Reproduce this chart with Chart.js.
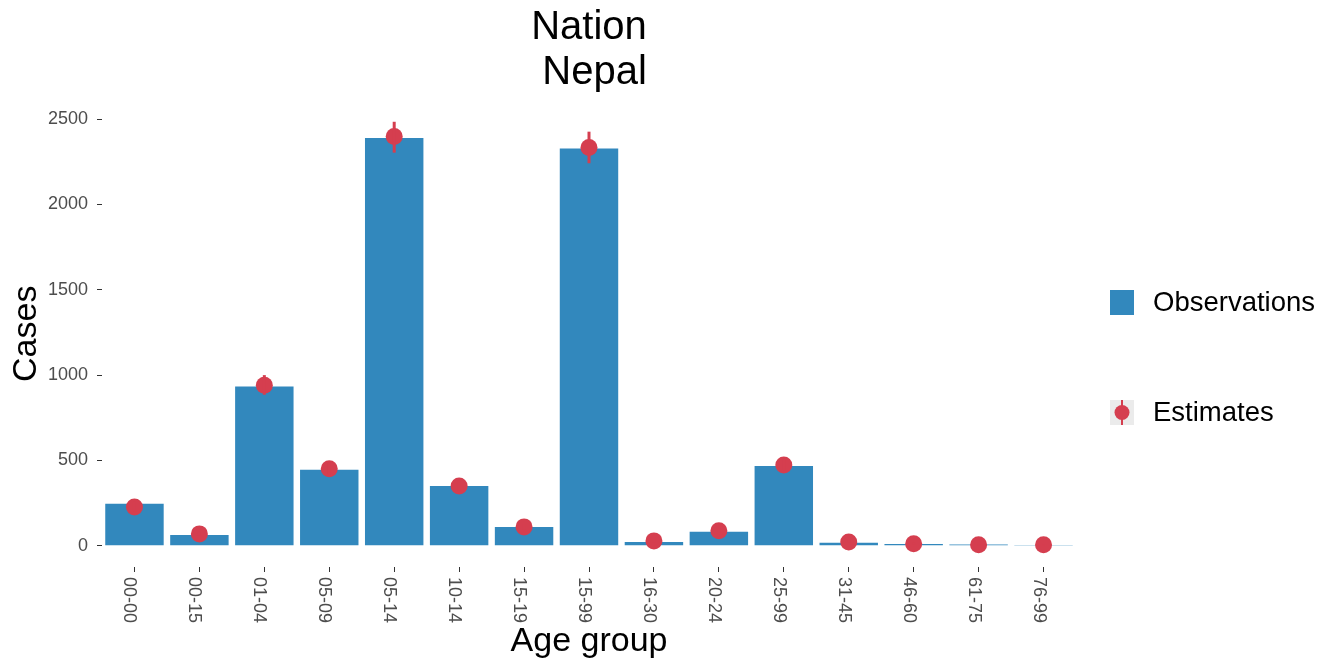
<!DOCTYPE html>
<html>
<head>
<meta charset="utf-8">
<script src="https://cdn.jsdelivr.net/npm/chart.js@4"></script>
<style>
  body { margin: 0; background: #fff; }
  #wrap { width: 1328px; height: 662px; }
</style>
</head>
<body>
<div id="wrap"><canvas id="chart" width="1328" height="662"></canvas></div>
<script>
const ageGroups = ['00-00', '00-15', '01-04', '05-09', '05-14', '10-14', '15-19', '15-99',
                   '16-30', '20-24', '25-99', '31-45', '46-60', '61-75', '76-99'];
const observations = [246, 64, 933, 445, 2389, 351, 111, 2328, 23, 82, 468, 18, 10, 8, 2];
const estimates = [228, 70, 940, 451, 2398, 351, 111, 2333, 29, 88, 474, 23, 12, 6, 6];
const estLow = [200, 58, 885, 415, 2303, 322, 95, 2241, 22, 75, 440, 17, 8, 3, 3];
const estHigh = [258, 84, 1000, 490, 2484, 382, 128, 2426, 37, 102, 510, 30, 17, 10, 10];
const yTicks = [0, 500, 1000, 1500, 2000, 2500];
const seriesNames = ['Observations', 'Estimates'];

const blue = '#3288BD';
const red = '#D53E4F';
const font = '"Liberation Sans", Arial, sans-serif';

// error bars on the estimates
const errorBars = {
  id: 'errorBars',
  afterDatasetsDraw(chart) {
    const { ctx, scales: { x, y } } = chart;
    ctx.save();
    ctx.strokeStyle = red;
    ctx.lineWidth = 3;
    estLow.forEach((lo, i) => {
      const px = x.getPixelForValue(i);
      ctx.beginPath();
      ctx.moveTo(px, y.getPixelForValue(lo));
      ctx.lineTo(px, y.getPixelForValue(estHigh[i]));
      ctx.stroke();
    });
    ctx.restore();
  }
};

// x labels turned to read top to bottom, like ggplot angle = -90
const xLabels = {
  id: 'xLabels',
  afterDraw(chart) {
    const { ctx, scales: { x } } = chart;
    ctx.save();
    ctx.fillStyle = '#4D4D4D';
    ctx.font = '18px ' + font;
    ctx.textAlign = 'left';
    ctx.textBaseline = 'middle';
    ageGroups.forEach((lab, i) => {
      ctx.save();
      ctx.translate(x.getPixelForTick(i) - 5, x.top + 10);
      ctx.rotate(Math.PI / 2);
      ctx.fillText(lab, 0, 0);
      ctx.restore();
    });
    ctx.restore();
  }
};

// legend on the right, ggplot style keys
const sideLegend = {
  id: 'sideLegend',
  afterDraw(chart) {
    const ctx = chart.ctx;
    ctx.save();
    ctx.font = '27.5px ' + font;
    ctx.textBaseline = 'middle';
    // Observations
    ctx.fillStyle = blue;
    ctx.fillRect(1110, 290, 24, 25);
    ctx.fillStyle = '#000';
    ctx.fillText(seriesNames[0], 1153, 303);
    // Estimates
    ctx.fillStyle = '#EBEBEB';
    ctx.fillRect(1110, 400, 24, 25);
    ctx.strokeStyle = red;
    ctx.lineWidth = 2;
    ctx.beginPath();
    ctx.moveTo(1122, 400);
    ctx.lineTo(1122, 425);
    ctx.stroke();
    ctx.fillStyle = red;
    ctx.beginPath();
    ctx.arc(1122, 412.5, 7.5, 0, Math.PI * 2);
    ctx.fill();
    ctx.fillStyle = '#000';
    ctx.fillText(seriesNames[1], 1153, 413);
    ctx.restore();
  }
};

new Chart(document.getElementById('chart'), {
  type: 'bar',
  data: {
    labels: ageGroups,
    datasets: [{
      type: 'line',
      label: seriesNames[1],
      data: estimates,
      showLine: false,
      pointRadius: 8.5,
      pointHoverRadius: 8.5,
      pointBackgroundColor: red,
      pointBorderWidth: 0,
      borderColor: red,
      order: 0
    }, {
      label: seriesNames[0],
      data: observations,
      backgroundColor: blue,
      borderWidth: 0,
      barPercentage: 0.9,
      categoryPercentage: 1,
      order: 1
    }]
  },
  options: {
    responsive: false,
    animation: false,
    devicePixelRatio: 1,
    layout: { padding: { left: 0, right: 252, top: 0, bottom: 0 } },
    plugins: {
      legend: { display: false },
      tooltip: { enabled: false },
      title: {
        display: true,
        fullSize: false,
        text: ['Nation', ' Nepal'],
        color: '#000',
        font: { family: font, size: 40, weight: 'normal', lineHeight: 1.12 },
        padding: { top: 6, bottom: 5 }
      }
    },
    scales: {
      x: {
        offset: true,
        grid: { display: true, drawOnChartArea: false, drawTicks: true, tickLength: 5, color: '#333', offset: false },
        border: { display: false },
        ticks: { display: false },
        title: {
          display: true,
          text: 'Age group',
          color: '#000',
          font: { family: font, size: 34 },
          padding: { top: 0, bottom: 0 }
        },
        afterFit(s) { s.height = 95; }
      },
      y: {
        min: -124,
        max: 2608,
        afterBuildTicks(s) { s.ticks = yTicks.map(v => ({ value: v })); },
        grid: { display: true, drawOnChartArea: false, drawTicks: true, tickLength: 5, color: '#333' },
        border: { display: false },
        ticks: {
          color: '#4D4D4D',
          font: { family: font, size: 18 },
          padding: 9,
          callback: v => String(v)
        },
        title: {
          display: true,
          text: 'Cases',
          color: '#000',
          font: { family: font, size: 34 },
          padding: { top: 6, bottom: 0 }
        },
        afterFit(s) { s.width = 102; }
      }
    }
  },
  plugins: [errorBars, xLabels, sideLegend]
});
</script>
</body>
</html>
